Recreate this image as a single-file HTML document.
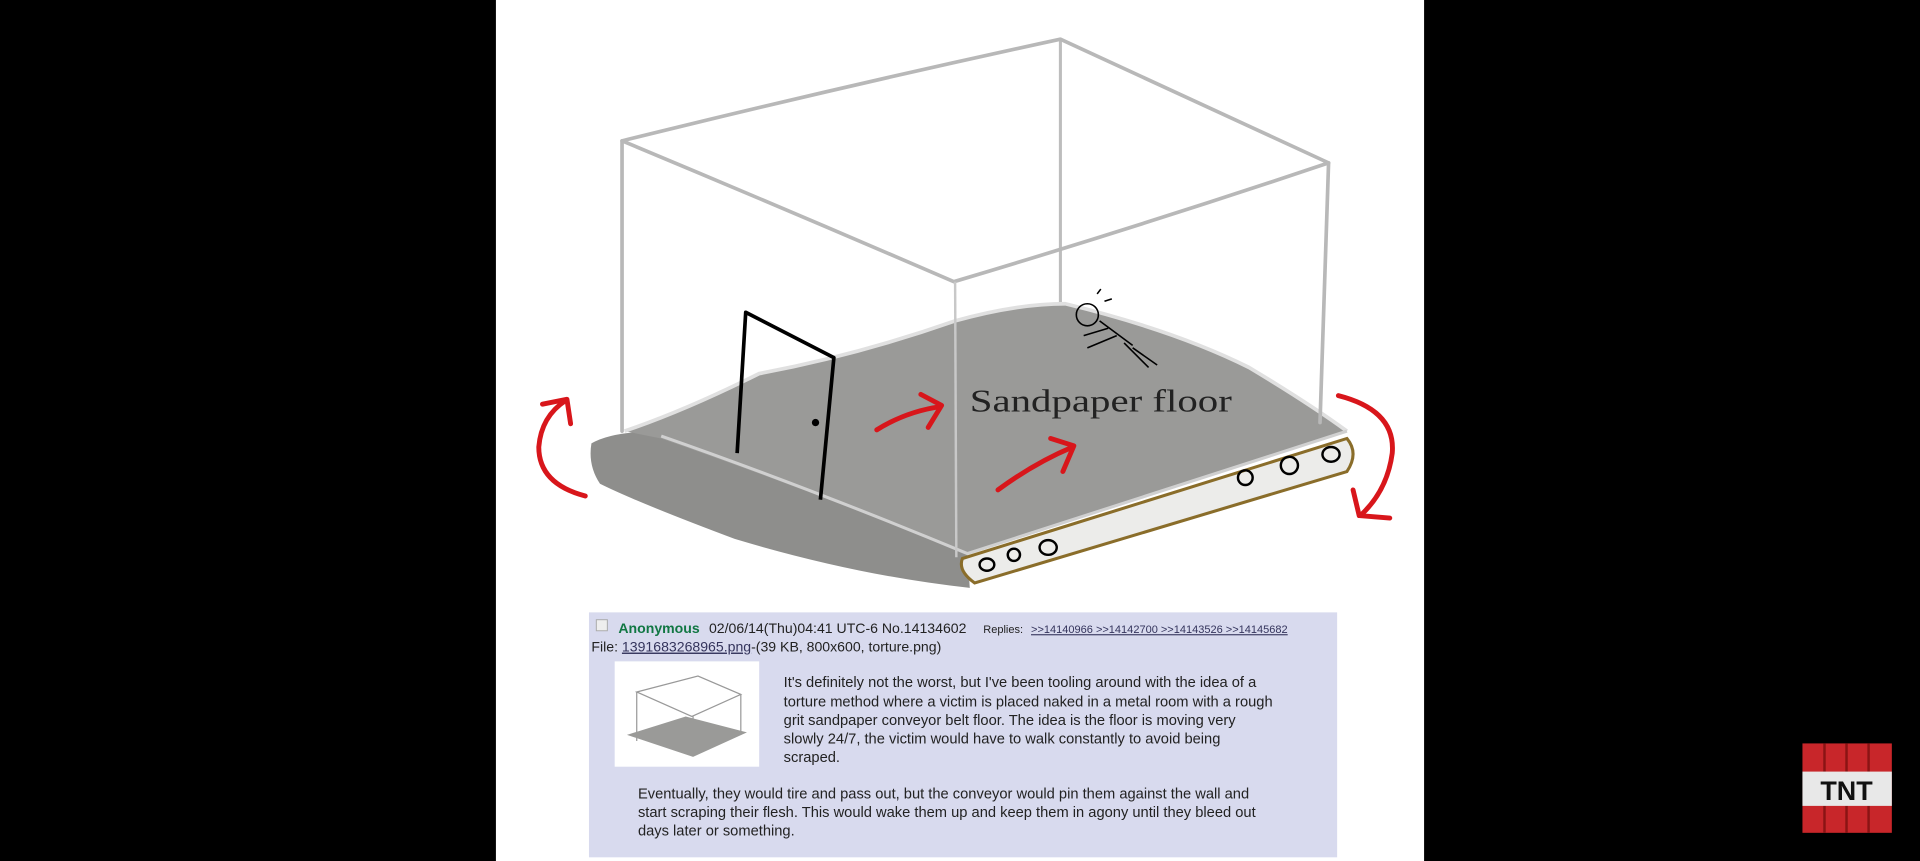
<!DOCTYPE html>
<html><head><meta charset="utf-8"><style>
html,body{margin:0;padding:0;background:#000;width:1920px;height:861px;overflow:hidden}
svg{display:block}
text{font-family:"Liberation Sans",Arial,sans-serif}
text.serif{font-family:"Liberation Serif","DejaVu Serif",serif}
</style></head><body>
<svg width="1920" height="861" viewBox="0 0 1568 703" preserveAspectRatio="none" xmlns="http://www.w3.org/2000/svg">
<rect x="0" y="0" width="1568" height="703" fill="#000"/>
<rect x="405" y="0" width="758" height="703" fill="#fff"/>
<g stroke="#bdbdbd" stroke-width="2.5" fill="none" stroke-linecap="round">
<line x1="866" y1="32" x2="866" y2="252"/>
</g>
<path d="M483,362 Q500,352 540,352 L790,450 L792,480 Q700,470 600,440 Q520,410 490,395 Q480,380 483,362Z" fill="#8e8e8c"/>
<path d="M510,352 Q560,335 620,305 Q700,290 780,262 Q830,248 870,248 Q960,270 1020,300 Q1070,330 1100,352 L790,452 Q660,400 540,358Z" fill="#9a9a98"/>
<path d="M510,352 Q560,335 620,305 Q700,290 780,262 Q830,248 870,248 Q960,270 1020,300 Q1070,330 1100,352" fill="none" stroke="#e0e0e0" stroke-width="3"/>
<path d="M540,356 Q660,398 790,452 L1100,352" fill="none" stroke="#d0d0d0" stroke-width="2.5"/>
<path d="M786,456 L1100,358 Q1110,370 1100,385 L796,476 Q782,466 786,456Z" fill="#ececea" stroke="#8a6d2a" stroke-width="2.5"/>
<g fill="none" stroke="#000" stroke-width="2">
<ellipse cx="806" cy="461" rx="6" ry="5"/><ellipse cx="828" cy="453" rx="5" ry="5"/><ellipse cx="856" cy="447" rx="7" ry="6"/>
<ellipse cx="1017" cy="390" rx="6" ry="6"/><ellipse cx="1053" cy="380" rx="7" ry="7"/><ellipse cx="1087" cy="371" rx="7" ry="6"/>
</g>
<g stroke="#b8b8b8" stroke-width="3" fill="none" stroke-linecap="round" stroke-linejoin="round">
<path d="M508,115 Q690,70 866,32 Q980,85 1085,133 Q930,185 779,230 Q640,170 508,115Z"/>
<line x1="508" y1="115" x2="508" y2="352"/>
<line x1="1085" y1="133" x2="1078" y2="345"/>
</g>
<line x1="780" y1="230" x2="781" y2="455" stroke="#c8c8c8" stroke-width="2"/>
<polyline points="602,370 609,255 681,292 670,408" fill="none" stroke="#000" stroke-width="3" stroke-linejoin="round"/>
<circle cx="666" cy="345" r="3" fill="#000"/>
<g fill="none" stroke="#000" stroke-width="1.3">
<circle cx="888" cy="257" r="9"/>
<path d="M896,240 l3,-4 M902,246 l6,-2 M898,262 L925,282 M905,268 l-20,6 M912,274 l-24,10 M918,280 l20,20 M925,284 l20,14"/>
</g>
<text class="serif" x="792" y="336" font-size="26" fill="#222" textLength="214" lengthAdjust="spacingAndGlyphs">Sandpaper floor</text>
<g stroke="#d8161b" stroke-width="4" fill="none" stroke-linecap="round" stroke-linejoin="round">
<path d="M716,351 Q740,336 768,332"/><path d="M752,322 L769,331 L758,349"/>
<path d="M815,400 Q845,378 876,365"/><path d="M858,358 L877,364 L868,385"/>
<path d="M478,405 Q440,395 440,365 Q442,340 462,327"/><path d="M443,330 L463,326 L466,346"/>
<path d="M1093,323 Q1140,335 1137,370 Q1133,400 1112,420"/><path d="M1105,400 L1110,421 L1135,423"/>
</g>
<rect x="481" y="500" width="611" height="200" fill="#d8daee"/>
<rect x="487" y="506" width="9" height="9" fill="#eee" stroke="#aaa" stroke-width="0.8"/>
<text y="517" font-size="11.5" fill="#222"><tspan x="505" fill="#117743" font-weight="bold">Anonymous</tspan><tspan x="579">02/06/14(Thu)04:41 UTC-6 No.14134602</tspan><tspan x="803" font-size="9">Replies:</tspan><tspan x="842" font-size="9" fill="#34345c" text-decoration="underline">&gt;&gt;14140966 &gt;&gt;14142700 &gt;&gt;14143526 &gt;&gt;14145682</tspan></text>
<text x="483" y="532" font-size="11.5" fill="#222">File: <tspan fill="#34345c" text-decoration="underline">1391683268965.png</tspan>-(39 KB, 800x600, torture.png)</text>
<rect x="502" y="540" width="118" height="86" fill="#fff"/>
<path d="M520,565 L570,552 L605,567 L565,585Z M520,565 V605 M605,567 V600 M566,585 V615" fill="none" stroke="#999" stroke-width="1"/>
<path d="M512,600 L560,585 L610,598 L566,618Z" fill="#9a9a98"/>
<text font-size="12" fill="#222">
<tspan x="640" y="561">It's definitely not the worst, but I've been tooling around with the idea of a</tspan>
<tspan x="640" y="577">torture method where a victim is placed naked in a metal room with a rough</tspan>
<tspan x="640" y="592">grit sandpaper conveyor belt floor. The idea is the floor is moving very</tspan>
<tspan x="640" y="607">slowly 24/7, the victim would have to walk constantly to avoid being</tspan>
<tspan x="640" y="622">scraped.</tspan>
<tspan x="521" y="652">Eventually, they would tire and pass out, but the conveyor would pin them against the wall and</tspan>
<tspan x="521" y="667">start scraping their flesh. This would wake them up and keep them in agony until they bleed out</tspan>
<tspan x="521" y="682">days later or something.</tspan>
</text>
<rect x="1472" y="607" width="73" height="73" fill="#c8262a"/>
<g stroke="#8a1414" stroke-width="2"><line x1="1490" y1="607" x2="1490" y2="680"/><line x1="1508" y1="607" x2="1508" y2="680"/><line x1="1526" y1="607" x2="1526" y2="680"/></g>
<rect x="1472" y="630" width="73" height="28" fill="#e8e8e8"/>
<text x="1508" y="653" font-size="22" font-weight="bold" text-anchor="middle" fill="#111">TNT</text>
</svg>
</body></html>
